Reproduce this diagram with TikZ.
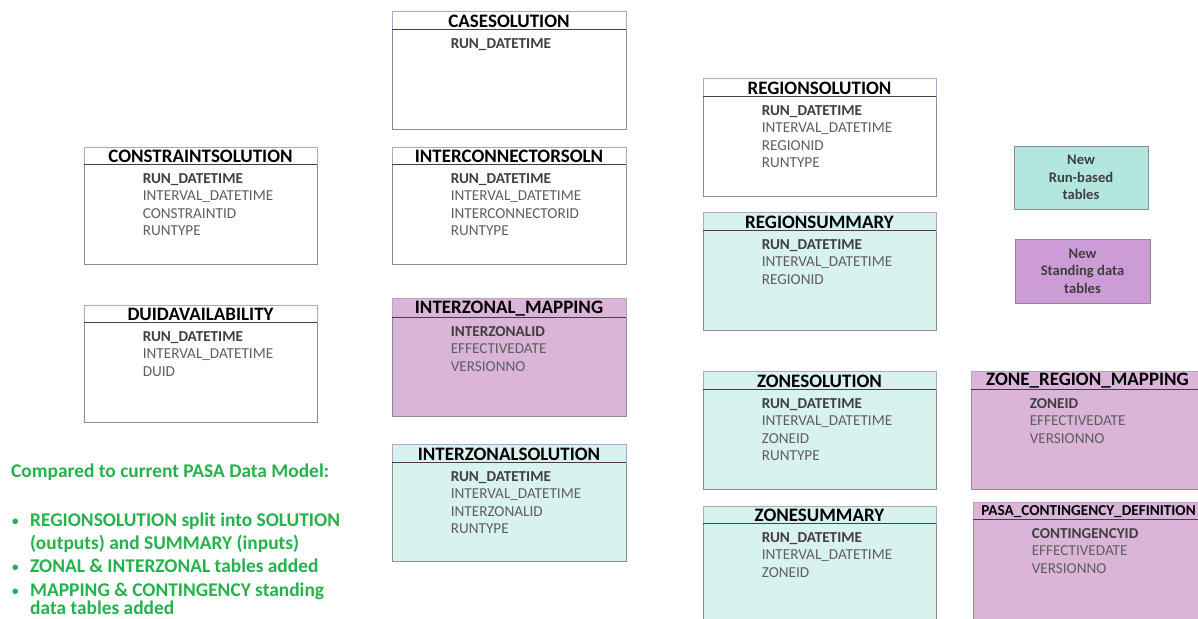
\documentclass[tikz,border=0pt]{standalone}
\usepackage{fontspec}
\setmainfont{Carlito}
\usetikzlibrary{fit,calc}
\definecolor{tealfill}{HTML}{D8F2EE}
\definecolor{purfill}{HTML}{DAB5D8}
\definecolor{legteal}{HTML}{B3E6DF}
\definecolor{legpur}{HTML}{CD9BD5}
\definecolor{boxgray}{HTML}{8C8C8C}
\definecolor{titleedge}{HTML}{B8A2CC}
\definecolor{titleline}{HTML}{4A3A52}
\definecolor{keytext}{HTML}{3F3F3F}
\definecolor{fieldtext}{HTML}{5F5F5F}
\definecolor{notegreen}{HTML}{25B24D}
\tikzset{
  x=1pt, y=-1pt,
  tablebox/.style={draw=boxgray, line width=0.8pt, inner sep=0pt},
  titlebar/.style={draw=titleedge, line width=0.8pt, inner sep=0pt},
  titletext/.style={font=\fontsize{19}{21}\selectfont\bfseries, text=black, inner sep=0pt},
  keyfield/.style={font=\fontsize{15.2}{17}\selectfont\bfseries, text=keytext, inner sep=0pt, anchor=base west},
  field/.style={font=\fontsize{15.2}{17}\selectfont, text=fieldtext, inner sep=0pt, anchor=base west},
  legend/.style={draw=boxgray, line width=0.8pt, inner sep=0pt, align=center,
    font=\fontsize{14.6}{17.5}\selectfont\bfseries, text=keytext},
  note/.style={font=\fontsize{19.4}{22}\selectfont\bfseries, text=notegreen, inner sep=0pt, anchor=base west},
  bullet/.style={font=\fontsize{13}{15}\selectfont\bfseries, text=notegreen, inner sep=0pt, anchor=base west},
}
% #1 name, #2 x1, #3 y1, #4 x2, #5 y2, #6 title bottom, #7 fill, #8 title, #9 fields
\newcommand{\dbtable}[9]{%
  \path (#2,#3) coordinate (#1-nw) (#4,#5) coordinate (#1-se) (#4,#6) coordinate (#1-tse);
  \node[tablebox, fill=#7, fit=(#1-nw)(#1-se)] (#1) {};
  \node[titlebar, fill=#7, fit=(#1-nw)(#1-tse)] (#1-t) {};
  \draw[titleline, line width=1pt] (#1-t.south west) -- (#1-t.south east);
  \node[titletext] (#1-tt) at ($(#1-t.center)+(0,1)$) {#8};
  \foreach \f [count=\i] in {#9} {
    \pgfmathsetmacro\fy{19+17.3*(\i-1)}
    \ifnum\i=1
      \node[keyfield] (#1-f\i) at ($(#1-t.south west)+(59,\fy)$) {\f};
    \else
      \node[field] (#1-f\i) at ($(#1-t.south west)+(59,\fy)$) {\f};
    \fi
  }%
}
\begin{document}
\begin{tikzpicture}
\useasboundingbox (0,0) rectangle (1198,618);
\clip (0,0) rectangle (1198,618);
\fill[white] (0,0) rectangle (1198,618);

\dbtable{cs}{392}{11}{626}{129}{29}{white}{CASESOLUTION}{RUN\_DATETIME}
\dbtable{cons}{84}{147}{317}{264}{164}{white}{CONSTRAINTSOLUTION}{RUN\_DATETIME,INTERVAL\_DATETIME,CONSTRAINTID,RUNTYPE}
\dbtable{ic}{392}{147}{626}{264}{164}{white}{INTERCONNECTORSOLN}{RUN\_DATETIME,INTERVAL\_DATETIME,INTERCONNECTORID,RUNTYPE}
\dbtable{duid}{84}{305}{317}{422}{322}{white}{DUIDAVAILABILITY}{RUN\_DATETIME,INTERVAL\_DATETIME,DUID}
\dbtable{izm}{392}{298}{626}{416}{317}{purfill}{INTERZONAL\_MAPPING}{INTERZONALID,EFFECTIVEDATE,VERSIONNO}
\dbtable{izs}{392}{444}{626}{561}{462}{tealfill}{INTERZONALSOLUTION}{RUN\_DATETIME,INTERVAL\_DATETIME,INTERZONALID,RUNTYPE}
\dbtable{rs}{703}{78}{936}{196}{96}{white}{REGIONSOLUTION}{RUN\_DATETIME,INTERVAL\_DATETIME,REGIONID,RUNTYPE}
\dbtable{rsum}{703}{212}{936}{330}{230}{tealfill}{REGIONSUMMARY}{RUN\_DATETIME,INTERVAL\_DATETIME,REGIONID}
\dbtable{zs}{703}{371}{936}{489}{389}{tealfill}{ZONESOLUTION}{RUN\_DATETIME,INTERVAL\_DATETIME,ZONEID,RUNTYPE}
\dbtable{zsum}{703}{506}{936}{630}{523}{tealfill}{ZONESUMMARY}{RUN\_DATETIME,INTERVAL\_DATETIME,ZONEID}
\dbtable{zrm}{971}{371}{1204}{489}{389}{purfill}{ZONE\_REGION\_MAPPING}{ZONEID,EFFECTIVEDATE,VERSIONNO}
\dbtable{pcd}{973}{502}{1204}{630}{519}{purfill}{\fontsize{15.2}{17}\selectfont PASA\_CONTINGENCY\_DEFINITION}{CONTINGENCYID,EFFECTIVEDATE,VERSIONNO}

% legend
\path (1014,146) coordinate (l1a) (1148,209) coordinate (l1b);
\node[legend, fill=legteal, fit=(l1a)(l1b)] (leg1) {};
\node[legend, draw=none, fill=none] (leg1t) at (leg1.center) {New\\Run-based\\tables};
\path (1015,239) coordinate (l2a) (1150,303) coordinate (l2b);
\node[legend, fill=legpur, fit=(l2a)(l2b)] (leg2) {};
\node[legend, draw=none, fill=none] (leg2t) at (leg2.center) {New\\Standing data\\tables};

% notes
\node[note] (n0) at (11,477) {Compared to current PASA Data Model:};
\node[bullet] (b1) at (12,525) {•};
\node[note] (n1) at (30,526) {REGIONSOLUTION split into SOLUTION};
\node[note] (n2) at (30,549) {(outputs) and SUMMARY (inputs)};
\node[bullet] (b2) at (12,571) {•};
\node[note] (n3) at (30,572) {ZONAL \& INTERZONAL tables added};
\node[bullet] (b3) at (12,595) {•};
\node[note] (n4) at (30,596) {MAPPING \& CONTINGENCY standing};
\node[note, text depth=0pt] (n5) at (30,614) {data tables added};
\end{tikzpicture}
\end{document}
